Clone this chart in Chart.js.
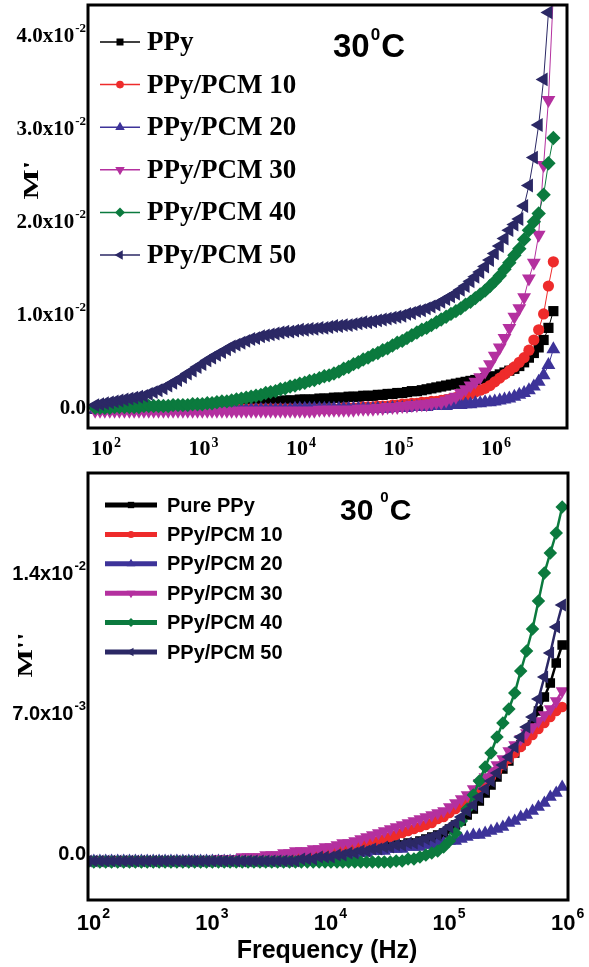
<!DOCTYPE html>
<html>
<head>
<meta charset="utf-8">
<script src="https://cdn.jsdelivr.net/npm/chart.js@4.4.1/dist/chart.umd.min.js"></script>
<style>
  html, body { margin: 0; padding: 0; background: #fff; }
  #wrap { position: relative; width: 589px; height: 967px; }
  canvas { position: absolute; left: 0; }
</style>
</head>
<body>
<div id="wrap">
  <canvas id="mPrime" width="589" height="460" style="top:0"></canvas>
  <canvas id="mDouble" width="589" height="507" style="top:460px"></canvas>
</div>
<script>
// ---- upper panel: M' vs frequency (Hz) ----
const topFreq = [
  89.1,
  100, 112, 126, 141, 158, 178, 200, 224, 251, 282,
  316, 355, 398, 447, 501, 562, 631, 708, 794, 891,
  1000, 1120, 1260, 1410, 1580, 1780, 2000, 2240, 2510, 2820,
  3160, 3550, 3980, 4470, 5010, 5620, 6310, 7080, 7940, 8910,
  1.00e4, 1.12e4, 1.26e4, 1.41e4, 1.58e4, 1.78e4, 2.00e4, 2.24e4, 2.51e4, 2.82e4,
  3.16e4, 3.55e4, 3.98e4, 4.47e4, 5.01e4, 5.62e4, 6.31e4, 7.08e4, 7.94e4, 8.91e4,
  1.00e5, 1.12e5, 1.26e5, 1.41e5, 1.58e5, 1.78e5, 2.00e5, 2.24e5, 2.51e5, 2.82e5,
  3.16e5, 3.55e5, 3.98e5, 4.47e5, 5.01e5, 5.62e5, 6.31e5, 7.08e5, 7.94e5, 8.91e5,
  1.00e6, 1.12e6, 1.26e6, 1.41e6, 1.58e6, 1.78e6, 2.00e6, 2.24e6, 2.51e6, 2.82e6,
  3.16e6, 3.55e6, 3.98e6, 4.47e6
];

const topPPy = [
  -.0002,
  -.0002, -.0002, -.0002, -.0002, -.0002, -.0002, -.0002, -.0002, -.0002, -.0002,
  -.0001, -.0001, -.0001, -.0001, -.0001, -.0001, -.0001, -.0001, -.0001, -.0001,
  0, 0, .0001, .0001, .0002, .0002, .0003, .0003, .0003, .0004,
  .0004, .0004, .0005, .0005, .0005, .0006, .0006, .0006, .0007, .0007,
  .0007, .0008, .0008, .0008, .0008, .0009, .0009, .0009, .0010, .0010,
  .0010, .0011, .0011, .0011, .0012, .0012, .0012, .0013, .0013, .0014,
  .0014, .0015, .0015, .0016, .0017, .0017, .0018, .0019, .0020, .0021,
  .0022, .0023, .0024, .0025, .0026, .0027, .0028, .0029, .0030, .0031,
  .0032, .0033, .0035, .0037, .0039, .0041, .0044, .0048, .0053, .0058,
  .0064, .0072, .0085, .0103
];
const topPCM10 = [
  -.0002,
  -.0002, -.0002, -.0002, -.0002, -.0002, -.0002, -.0002, -.0002, -.0002, -.0002,
  -.0002, -.0002, -.0002, -.0002, -.0002, -.0002, -.0002, -.0002, -.0002, -.0002,
  -.0002, -.0002, -.0002, -.0002, -.0002, -.0002, -.0002, -.0002, -.0002, -.0002,
  -.0002, -.0002, -.0002, -.0002, -.0002, -.0002, -.0002, -.0002, -.0002, -.0002,
  -.0002, -.0002, -.0002, -.0002, -.0002, -.0002, -.0002, -.0002, -.0002, -.0002,
  -.0001, -.0001, -.0001, -.0001, 0, 0, 0, .0001, .0001, .0001,
  .0002, .0002, .0003, .0003, .0004, .0004, .0005, .0005, .0006, .0006,
  .0007, .0008, .0009, .0010, .0011, .0012, .0014, .0016, .0018, .0020,
  .0023, .0027, .0031, .0035, .0039, .0043, .0048, .0053, .0061, .0072,
  .0083, .0100, .0130, .0156
];
const topPCM20 = [
  -.0003,
  -.0003, -.0003, -.0003, -.0003, -.0003, -.0003, -.0003, -.0003, -.0003, -.0003,
  -.0003, -.0003, -.0003, -.0003, -.0003, -.0003, -.0003, -.0003, -.0003, -.0003,
  -.0003, -.0003, -.0003, -.0003, -.0003, -.0003, -.0003, -.0003, -.0003, -.0003,
  -.0003, -.0003, -.0003, -.0003, -.0003, -.0003, -.0003, -.0003, -.0003, -.0003,
  -.0002, -.0002, -.0002, -.0002, -.0002, -.0002, -.0002, -.0002, -.0002, -.0002,
  -.0002, -.0002, -.0002, -.0002, -.0002, -.0002, -.0002, -.0002, -.0002, -.0002,
  -.0001, -.0001, -.0001, -.0001, 0, 0, 0, 0, .0001, .0001,
  .0001, .0001, .0002, .0002, .0002, .0003, .0003, .0004, .0004, .0005,
  .0005, .0006, .0007, .0008, .0009, .0011, .0013, .0015, .0018, .0022,
  .0027, .0034, .0045, .0062
];
const topPCM30 = [
  -.0004,
  -.0004, -.0004, -.0004, -.0004, -.0004, -.0004, -.0004, -.0004, -.0004, -.0004,
  -.0004, -.0004, -.0004, -.0004, -.0004, -.0004, -.0004, -.0004, -.0004, -.0004,
  -.0004, -.0004, -.0004, -.0004, -.0004, -.0004, -.0004, -.0004, -.0004, -.0004,
  -.0004, -.0004, -.0004, -.0004, -.0004, -.0004, -.0004, -.0004, -.0004, -.0004,
  -.0004, -.0004, -.0004, -.0004, -.0004, -.0003, -.0003, -.0003, -.0003, -.0003,
  -.0003, -.0003, -.0003, -.0002, -.0002, -.0002, -.0002, -.0001, -.0001, 0,
  0, 0, .0001, .0001, .0002, .0002, .0003, .0003, .0004, .0005,
  .0005, .0007, .0009, .0011, .0015, .0019, .0023, .0027, .0032, .0038,
  .0046, .0055, .0064, .0074, .0085, .0097, .0106, .0118, .0138, .0155,
  .0185, .0260, .0330, .0445
];
const topPCM40 = [
  -.0001,
  -.0001, -.0001, -.0001, 0, 0, 0, 0, 0, 0, .0001,
  .0001, .0001, .0001, .0001, .0001, .0002, .0002, .0002, .0002, .0003,
  .0003, .0003, .0004, .0004, .0005, .0006, .0006, .0007, .0008, .0009,
  .0010, .0011, .0012, .0013, .0015, .0016, .0017, .0019, .0020, .0022,
  .0023, .0025, .0026, .0028, .0029, .0031, .0033, .0034, .0036, .0038,
  .0041, .0043, .0046, .0048, .0051, .0053, .0056, .0058, .0061, .0063,
  .0066, .0069, .0071, .0074, .0077, .0080, .0083, .0085, .0088, .0091,
  .0094, .0097, .0100, .0103, .0106, .0110, .0113, .0117, .0121, .0125,
  .0130, .0135, .0141, .0148, .0155, .0163, .0170, .0180, .0190, .0199,
  .0208, .0228, .0262, .0289
];
const topPCM50 = [
  .0002,
  .0003, .0004, .0005, .0006, .0007, .0008, .0009, .0010, .0011, .0012,
  .0014, .0016, .0018, .0020, .0023, .0026, .0029, .0032, .0036, .0039,
  .0043, .0046, .0050, .0053, .0056, .0059, .0062, .0065, .0067, .0069,
  .0071, .0073, .0074, .0076, .0077, .0078, .0079, .0080, .0081, .0081,
  .0082, .0083, .0083, .0084, .0084, .0085, .0085, .0086, .0087, .0087,
  .0088, .0088, .0089, .0090, .0091, .0091, .0092, .0093, .0094, .0095,
  .0096, .0097, .0098, .0100, .0101, .0103, .0104, .0106, .0108, .0110,
  .0113, .0116, .0119, .0122, .0126, .0130, .0135, .0140, .0145, .0151,
  .0158, .0165, .0173, .0181, .0190, .0196, .0202, .0216, .0238, .0268,
  .0303, .0352, .0424, null
];

const topNames = ['PPy', 'PPy/PCM 10', 'PPy/PCM 20', 'PPy/PCM 30', 'PPy/PCM 40', 'PPy/PCM 50'];
const topYTicks = [0, 0.01, 0.02, 0.03, 0.04];
const topYLabels = [['0.0', ''], ['1.0x10', '-2'], ['2.0x10', '-2'], ['3.0x10', '-2'], ['4.0x10', '-2']];
const topXTicks = [1e2, 1e3, 1e4, 1e5, 1e6];
const topXLabels = [['10', '2'], ['10', '3'], ['10', '4'], ['10', '5'], ['10', '6']];

// ---- lower panel: M'' vs frequency (Hz) ----
const botFreq = [
  100, 112, 126, 141, 158, 178, 200, 224, 251, 282,
  316, 355, 398, 447, 501, 562, 631, 708, 794, 891,
  1000, 1120, 1260, 1410, 1580, 1780, 2000, 2240, 2510, 2820,
  3160, 3550, 3980, 4470, 5010, 5620, 6310, 7080, 7940, 8910,
  1.00e4, 1.12e4, 1.26e4, 1.41e4, 1.58e4, 1.78e4, 2.00e4, 2.24e4, 2.51e4, 2.82e4,
  3.16e4, 3.55e4, 3.98e4, 4.47e4, 5.01e4, 5.62e4, 6.31e4, 7.08e4, 7.94e4, 8.91e4,
  1.00e5, 1.12e5, 1.26e5, 1.41e5, 1.58e5, 1.78e5, 2.00e5, 2.24e5, 2.51e5, 2.82e5,
  3.16e5, 3.55e5, 3.98e5, 4.47e5, 5.01e5, 5.62e5, 6.31e5, 7.08e5, 7.94e5, 8.91e5,
  1.00e6
];

const botPPy = [
  -.0004, -.0004, -.0004, -.0004, -.0004, -.0004, -.0004, -.0004, -.0004, -.0004,
  -.0004, -.0004, -.0004, -.0004, -.0004, -.0004, -.0004, -.0004, -.0004, -.0004,
  -.0004, -.0004, -.0004, -.0004, -.0004, -.0004, -.0004, -.0004, -.0004, -.0004,
  -.0004, -.0004, -.0004, -.0004, -.0004, -.0004, -.0003, -.0003, -.0003, -.0002,
  -.0002, -.0002, -.0001, -.0001, 0, 0, .0001, .0001, .0002, .0002,
  .0003, .0003, .0004, .0004, .0005, .0005, .0006, .0007, .0008, .0009,
  .0010, .0012, .0014, .0016, .0019, .0022, .0026, .0030, .0034, .0038,
  .0042, .0046, .0050, .0054, .0059, .0064, .0071, .0078, .0085, .0095,
  .0104
];
const botPCM10 = [
  -.0004, -.0004, -.0004, -.0004, -.0004, -.0004, -.0004, -.0004, -.0004, -.0004,
  -.0004, -.0004, -.0004, -.0004, -.0004, -.0004, -.0004, -.0004, -.0004, -.0004,
  -.0004, -.0004, -.0004, -.0004, -.0004, -.0004, -.0004, -.0004, -.0003, -.0003,
  -.0003, -.0002, -.0002, -.0002, -.0001, -.0001, 0, 0, 0, .0001,
  .0001, .0002, .0002, .0003, .0003, .0004, .0004, .0005, .0006, .0006,
  .0007, .0008, .0009, .0010, .0011, .0012, .0013, .0014, .0015, .0017,
  .0018, .0020, .0022, .0024, .0026, .0029, .0032, .0035, .0038, .0041,
  .0044, .0047, .0050, .0053, .0056, .0059, .0062, .0065, .0068, .0071,
  .0073
];
const botPCM20 = [
  -.0004, -.0004, -.0004, -.0004, -.0004, -.0004, -.0004, -.0004, -.0004, -.0004,
  -.0004, -.0004, -.0004, -.0004, -.0004, -.0004, -.0004, -.0004, -.0004, -.0004,
  -.0004, -.0004, -.0004, -.0004, -.0004, -.0004, -.0004, -.0004, -.0004, -.0004,
  -.0004, -.0004, -.0004, -.0004, -.0004, -.0004, -.0004, -.0004, -.0004, -.0004,
  -.0003, -.0003, -.0002, -.0002, -.0001, -.0001, 0, 0, .0001, .0001,
  .0001, .0002, .0002, .0002, .0003, .0003, .0003, .0004, .0004, .0005,
  .0005, .0006, .0006, .0007, .0008, .0009, .0009, .0010, .0011, .0012,
  .0013, .0015, .0016, .0018, .0019, .0021, .0023, .0025, .0028, .0030,
  .0033
];
const botPCM30 = [
  -.0004, -.0004, -.0004, -.0004, -.0004, -.0004, -.0004, -.0004, -.0004, -.0004,
  -.0004, -.0004, -.0004, -.0004, -.0004, -.0004, -.0004, -.0004, -.0004, -.0004,
  -.0004, -.0004, -.0003, -.0003, -.0003, -.0003, -.0002, -.0002, -.0002, -.0002,
  -.0001, -.0001, -.0001, 0, 0, .0001, .0001, .0001, .0002, .0002,
  .0003, .0003, .0004, .0005, .0005, .0006, .0007, .0008, .0009, .0010,
  .0011, .0012, .0013, .0014, .0015, .0016, .0017, .0018, .0019, .0020,
  .0021, .0023, .0025, .0027, .0029, .0032, .0035, .0038, .0041, .0044,
  .0047, .0051, .0054, .0057, .0060, .0063, .0066, .0069, .0072, .0076,
  .0081
];
const botPCM40 = [
  -.00045, -.00045, -.00045, -.00045, -.00045, -.00045, -.00045, -.00045, -.00045, -.00045,
  -.00045, -.00045, -.00045, -.00045, -.00045, -.00045, -.00045, -.00045, -.00045, -.00045,
  -.00045, -.00045, -.00045, -.00045, -.00045, -.00045, -.00045, -.00045, -.00045, -.00045,
  -.00045, -.00045, -.00045, -.00045, -.00045, -.00045, -.00045, -.00045, -.00045, -.00045,
  -.00045, -.00045, -.00045, -.00045, -.00045, -.00045, -.00045, -.00045, -.00045, -.00045,
  -.00045, -.00045, -.0004, -.0004, -.0003, -.0003, -.0002, -.0001, 0, .0001,
  .0003, .0006, .0010, .0016, .0022, .0029, .0036, .0043, .0050, .0058,
  .0065, .0072, .0080, .0091, .0101, .0112, .0126, .0140, .0150, .0160,
  .0173
];
const botPCM50 = [
  -.0004, -.0004, -.0004, -.0004, -.0004, -.0004, -.0004, -.0004, -.0004, -.0004,
  -.0004, -.0004, -.0004, -.0004, -.0004, -.0004, -.0004, -.0004, -.0004, -.0004,
  -.0004, -.0004, -.0004, -.0004, -.0004, -.0004, -.0004, -.0004, -.0004, -.0004,
  -.0004, -.0004, -.0004, -.0004, -.0004, -.0004, -.0003, -.0003, -.0003, -.0002,
  -.0002, -.0002, -.0001, -.0001, 0, 0, .0001, .0001, .0002, .0002,
  .0003, .0003, .0004, .0004, .0005, .0005, .0006, .0007, .0008, .0009,
  .0011, .0013, .0015, .0018, .0021, .0024, .0028, .0032, .0036, .0040,
  .0044, .0048, .0053, .0058, .0063, .0068, .0077, .0088, .0100, .0113,
  .0124
];

const botNames = ['Pure PPy', 'PPy/PCM 10', 'PPy/PCM 20', 'PPy/PCM 30', 'PPy/PCM 40', 'PPy/PCM 50'];
const botYTicks = [0, 0.007, 0.014];
const botYLabels = [['0.0', ''], ['7.0x10', '-3'], ['1.4x10', '-2']];
const botXTicks = [1e2, 1e3, 1e4, 1e5, 1e6];
const botXLabels = [['10', '2'], ['10', '3'], ['10', '4'], ['10', '5'], ['10', '6']];

// marker + colour for each sample, same order in both panels
const seriesStyle = [
  { color: '#000000', style: 'rect',     rot: 0,   r: 4.5 },
  { color: '#ee2b2b', style: 'circle',   rot: 0,   r: 3.5 },
  { color: '#3d3399', style: 'triangle', rot: 0,   r: 5 },
  { color: '#b4309f', style: 'triangle', rot: 180, r: 5 },
  { color: '#0b7a3e', style: 'rectRot',  rot: 0,   r: 4.5 },
  { color: '#2b2865', style: 'triangle', rot: 270, r: 5 }
];

function buildSets(freq, series, names, lineW, markScale) {
  return series.map((vals, i) => {
    const st = seriesStyle[i];
    return {
      label: names[i],
      data: freq.map((f, k) => ({ x: f, y: vals[k] })),
      borderColor: st.color,
      backgroundColor: st.color,
      borderWidth: lineW,
      pointStyle: st.style,
      pointRotation: st.rot,
      pointRadius: st.r * markScale,
      pointBorderWidth: 0,
      tension: 0,
      order: series.length - i   // later samples drawn on top
    };
  });
}

function drawPower(ctx, base, sup, x, y, f) {
  ctx.font = f.base;
  const bw = ctx.measureText(base).width;
  ctx.font = f.sup;
  const sw = sup ? ctx.measureText(sup).width + 1 : 0;
  const x0 = f.align === 'right' ? x - bw - sw : x - bw / 2;
  ctx.textAlign = 'left';
  ctx.textBaseline = 'alphabetic';
  ctx.font = f.base;
  ctx.fillText(base, x0, y);
  if (sup) {
    ctx.font = f.sup;
    ctx.fillText(sup, x0 + bw + 1, y - f.rise);
  }
}

function drawRotated(ctx, text, cx, cy, font, stretch) {
  ctx.save();
  ctx.translate(cx, cy);
  ctx.rotate(-Math.PI / 2);
  ctx.scale(stretch, 1);
  ctx.font = font;
  ctx.textAlign = 'center';
  ctx.textBaseline = 'middle';
  ctx.fillText(text, 0, 0);
  ctx.restore();
}

// frame, tick labels, in-plot legend and annotations
function makeDecor(cfg) {
  return {
    id: 'decor',
    afterDraw(chart) {
      const ctx = chart.ctx, a = chart.chartArea;
      const xs = chart.scales.x, ys = chart.scales.y;
      ctx.save();
      ctx.fillStyle = '#000';

      cfg.yTicks.forEach((v, i) => {
        const [b, s] = cfg.yLabels[i];
        drawPower(ctx, b, s, cfg.yRight, ys.getPixelForValue(v) + cfg.yDrop, cfg.yFont);
      });
      cfg.xTicks.forEach((v, i) => {
        const [b, s] = cfg.xLabels[i];
        drawPower(ctx, b, s, xs.getPixelForValue(v) + cfg.xShift, cfg.xBaseline, cfg.xFont);
      });

      ctx.lineWidth = 3;
      ctx.strokeStyle = '#000';
      ctx.strokeRect(a.left, a.top, a.right - a.left, a.bottom - a.top);

      const L = cfg.legend;
      cfg.names.forEach((name, i) => {
        const st = seriesStyle[i];
        const y = L.y0 + i * L.dy;
        ctx.strokeStyle = st.color;
        ctx.lineWidth = L.lineW;
        ctx.beginPath();
        ctx.moveTo(L.x0, y);
        ctx.lineTo(L.x1, y);
        ctx.stroke();
        ctx.fillStyle = st.color;
        Chart.helpers.drawPoint(ctx, {
          pointStyle: st.style, rotation: st.rot, radius: st.r * L.markScale, borderWidth: 0
        }, (L.x0 + L.x1) / 2, y);
        ctx.fillStyle = '#000';
        ctx.font = L.font;
        ctx.textAlign = 'left';
        ctx.textBaseline = 'middle';
        ctx.fillText(name, L.tx, y + 1);
      });

      // temperature tag
      const T = cfg.title;
      ctx.textAlign = 'left';
      ctx.textBaseline = 'alphabetic';
      ctx.font = T.big;
      ctx.fillText('30', T.x, T.y);
      let tx = T.x + ctx.measureText('30').width + T.gap;
      ctx.font = T.sup;
      ctx.fillText('0', tx, T.y - T.rise);
      tx += ctx.measureText('0').width + 1;
      ctx.font = T.big;
      ctx.fillText('C', tx, T.y);

      const A = cfg.axisTitle;
      drawRotated(ctx, A.text, A.x, A.y, A.font, A.stretch);

      if (cfg.xTitle) {
        ctx.font = cfg.xTitle.font;
        ctx.textAlign = 'center';
        ctx.textBaseline = 'alphabetic';
        ctx.fillText(cfg.xTitle.text, cfg.xTitle.x, cfg.xTitle.y);
      }
      ctx.restore();
    }
  };
}

function makeChart(id, datasets, cfg) {
  return new Chart(document.getElementById(id), {
    type: 'line',
    data: { datasets },
    options: {
      responsive: false,
      animation: false,
      devicePixelRatio: 1,
      layout: { autoPadding: false, padding: cfg.padding },
      plugins: { legend: { display: false }, tooltip: { enabled: false } },
      scales: {
        x: {
          type: 'logarithmic',
          min: cfg.xMin, max: cfg.xMax,
          grid: { display: false },
          border: { display: false },
          ticks: { display: false },
          afterBuildTicks: s => { s.ticks = cfg.xTicks.map(v => ({ value: v })); },
          afterFit: s => { s.height = cfg.xAxisH; }
        },
        y: {
          type: 'linear',
          min: cfg.yMin, max: cfg.yMax,
          grid: { display: false },
          border: { display: false },
          ticks: { display: false },
          afterBuildTicks: s => { s.ticks = cfg.yTicks.map(v => ({ value: v })); },
          afterFit: s => { s.width = 88; }
        }
      }
    },
    plugins: [makeDecor(cfg)]
  });
}

const serif = '"Liberation Serif", "Times New Roman", serif';
const sans = '"Liberation Sans", Arial, sans-serif';

makeChart('mPrime',
  buildSets(topFreq, [topPPy, topPCM10, topPCM20, topPCM30, topPCM40, topPCM50], topNames, 1, 1.6),
  {
    padding: { top: 5, right: 22, left: 0, bottom: 0 },
    xMin: 75.3, xMax: 6.17e6, yMin: -0.00226, yMax: 0.0432, xAxisH: 32,
    yTicks: topYTicks, yLabels: topYLabels, yRight: 86, yDrop: 7,
    yFont: { base: 'bold 21px ' + serif, sup: 'bold 13px ' + serif, rise: 10, align: 'right' },
    xTicks: topXTicks, xLabels: topXLabels, xBaseline: 455, xShift: 2,
    xFont: { base: 'bold 22px ' + serif, sup: 'bold 14px ' + serif, rise: 8, align: 'center' },
    names: topNames,
    legend: { x0: 100, x1: 140, y0: 42, dy: 42.6, lineW: 1.5, tx: 147, font: 'bold 27px ' + serif, markScale: 1.1 },
    title: { x: 333, y: 57, big: 'bold 33px ' + sans, sup: 'bold 17px ' + sans, rise: 17, gap: 1 },
    axisTitle: { text: "M'", x: 32, y: 180, font: 'bold 22px ' + serif, stretch: 1.45 }
  });

makeChart('mDouble',
  buildSets(botFreq, [botPPy, botPCM10, botPCM20, botPCM30, botPCM40, botPCM50], botNames, 2.5, 1.5),
  {
    padding: { top: 13, right: 21, left: 0, bottom: 0 },
    xMin: 100, xMax: 1.12e6, yMin: -0.00235, yMax: 0.019, xAxisH: 67,
    yTicks: botYTicks, yLabels: botYLabels, yRight: 86, yDrop: 7,
    yFont: { base: 'bold 20px ' + sans, sup: 'bold 13px ' + sans, rise: 10, align: 'right' },
    xTicks: botXTicks, xLabels: botXLabels, xBaseline: 470, xShift: 1,
    xFont: { base: 'bold 22px ' + sans, sup: 'bold 14px ' + sans, rise: 12, align: 'center' },
    names: botNames,
    legend: { x0: 105, x1: 157, y0: 45, dy: 29.4, lineW: 5, tx: 167, font: 'bold 20px ' + sans, markScale: 1 },
    title: { x: 340, y: 60, big: 'bold 30px ' + sans, sup: 'bold 15px ' + sans, rise: 18, gap: 7 },
    axisTitle: { text: "M''", x: 27, y: 195, font: 'bold 20px ' + serif, stretch: 1.5 },
    xTitle: { text: 'Frequency (Hz)', x: 327, y: 498, font: 'bold 25px ' + sans }
  });
</script>
</body>
</html>
